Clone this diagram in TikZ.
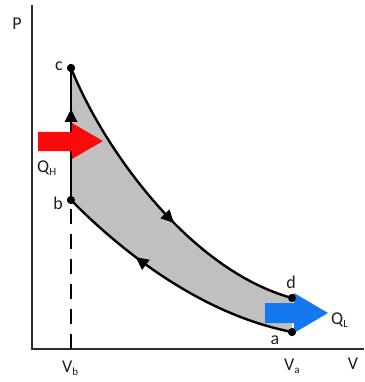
\documentclass[tikz,border=0pt]{standalone}
\usepackage{fontspec}
\setmainfont{Carlito}
\usetikzlibrary{arrows.meta,decorations.markings}
\definecolor{fillgray}{RGB}{192,192,192}
\definecolor{qhred}{RGB}{250,10,10}
\definecolor{qlblue}{RGB}{20,120,240}
\definecolor{axisgray}{RGB}{45,45,45}
\definecolor{txt}{RGB}{30,30,30}
\newcommand{\subtxt}[1]{\raisebox{-0.35ex}{\fontsize{11}{11}\selectfont #1}}
\begin{document}
\begin{tikzpicture}[x=1pt,y=-1pt,
  lbl/.style={font=\fontsize{18}{18}\selectfont, inner sep=0pt, text=txt},
  dotpt/.style={circle, fill=black, inner sep=0pt, minimum size=8pt},
  curve/.style={line width=2.4pt, black},
  axisline/.style={line width=1.5pt, axisgray},
  midarrow/.style={postaction={decorate, decoration={markings,
      mark=at position #1 with {\arrow{Triangle[length=13pt,width=12pt]}}}}},
  midarrowrev/.style={postaction={decorate, decoration={markings,
      mark=at position #1 with {\arrowreversed{Triangle[length=13pt,width=12pt]}}}}},
  ]
\useasboundingbox (0,0) rectangle (364,382);
% axes
\coordinate (O) at (32,349);
\coordinate (ytop) at (32,5);
\coordinate (xend) at (364,349);
\coordinate (bax) at (71,349);
\draw[axisline] (ytop) -- (O) -- (xend);
% state points
\node[dotpt] (c) at (71,68) {};
\node[dotpt] (b) at (71,200) {};
\node[dotpt] (d) at (292,298) {};
\node[dotpt] (a) at (292,332) {};
% gray region
\fill[fillgray] (c.center) .. controls (104,150) and (190,270) .. (d.center)
  -- (a.center) .. controls (200,314) and (120,250) .. (b.center) -- cycle;
% dashed drop line
\draw[line width=1.2pt, black, dash pattern=on 15pt off 10pt] (bax) -- (b.center);
% cycle curves
\draw[curve, midarrow=0.57] (c.center) .. controls (104,150) and (190,270) .. (d.center);
\draw[curve, midarrowrev=0.33] (b.center) .. controls (120,250) and (200,314) .. (a.center);
\draw[curve, midarrow=0.69] (b.center) -- (c.center);
% heat arrows
\fill[qhred] (38,132) -- (72,132) -- (72,123) -- (103,141) -- (72,159) -- (72,151) -- (38,151) -- cycle;
\fill[qlblue] (265,303) -- (294,303) -- (294,293) -- (328,313) -- (294,333) -- (294,323) -- (265,323) -- cycle;
% dots on top
\node[dotpt] at (c) {};
\node[dotpt] at (b) {};
\node[dotpt] at (d) {};
\node[dotpt] at (a) {};
% labels
\node[lbl] (lP) at (17,24) {P};
\node[lbl] (lc) at (59,66) {c};
\node[lbl] (lb) at (58,203) {b};
\node[lbl] (ld) at (291,282) {d};
\node[lbl] (la) at (275,340) {a};
\node[lbl, anchor=west] (lQH) at (37,168) {Q\subtxt{H}};
\node[lbl, anchor=west] (lQL) at (331,320) {Q\subtxt{L}};
\node[lbl, anchor=west] (lVb) at (62,368) {V\subtxt{b}};
\node[lbl, anchor=west] (lVa) at (284,366) {V\subtxt{a}};
\node[lbl] (lV) at (353,364) {V};
\end{tikzpicture}
\end{document}
